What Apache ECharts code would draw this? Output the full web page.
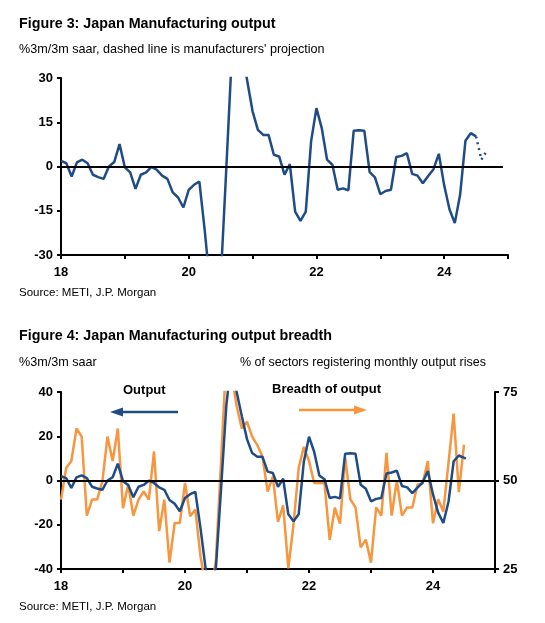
<!DOCTYPE html>
<html><head><meta charset="utf-8">
<script src="https://cdn.jsdelivr.net/npm/echarts@6/dist/echarts.min.js"></script>
<style>html,body{margin:0;padding:0;background:#fff}#c{width:545px;height:623px}</style>
</head><body><div id="c"></div>
<script>
// Monthly data, Jan 2018 .. Jul 2024
const startYear = 2018;
const output = [
  1.9, 1.1, -3.4, 1.4, 2.3, 1.1, -2.8, -3.6, -4.2, 0, 1.5, 7.6,
  -0.3, -2.0, -7.6, -2.8, -2.0, -0.1, -1.1, -3.1, -4.2, -8.8, -10.5, -13.9,
  -7.9, -6.2, -5.1, -21.5, -40, -52, -39, -3, 34, 55, 40, 29,
  18.7, 12.4, 10.7, 10.7, 4.0, 3.4, -2.8, 0.8, -15.3, -18.4, -15.3, 8.5,
  19.8, 13.0, 2.3, 0.6, -7.9, -7.4, -8.1, 12.1, 12.3, 12.1, -1.9, -3.7,
  -9.4, -8.3, -7.9, 3.2, 3.6, 4.5, -2.5, -3.1, -5.7, -3.2, -0.9, 4.3,
  -6.3, -14.5, -19.2, -9.6, 8.7, 11.3, 10.2
];
// manufacturers' projection: Jul, Aug, Sep 2024
const projectionStart = 78;
const projection = [10.2, 2.3, 5.3];
// bottom chart tail of output line: Jul, Aug 2024
const outputTail = [10.2, 9.8];
const breadth = [
  44.6, 53.5, 55.5, 64.7, 62.4, 40.1, 44.6, 44.6, 49.7, 62.4, 55.5, 64.7,
  42.2, 48.8, 40.1, 44.6, 46.9, 44.6, 58.2, 35.7, 44.6, 26.8, 38.0, 38.0,
  49.3, 39.9, 41.8, 28.6, 20, 16, 28, 56, 85, 80, 71, 64.7,
  66.6, 62.4, 60.0, 56.7, 46.9, 51.1, 38.3, 43.0, 25.2, 37.5, 53.5, 59.5,
  55.5, 49.3, 49.3, 49.2, 33.2, 42.3, 37.8, 56.5, 44.7, 42.4, 31.1, 33.3,
  26.8, 42.4, 40.1, 57.8, 40.1, 50.0, 40.1, 42.4, 42.4, 48.8, 49.2, 55.5,
  37.9, 44.7, 41.2, 55.0, 68.9, 46.7, 60.1
];
const xYears = [2018, 2025];
const topTicks = [-30, 30, 15];
const leftTicks = [-40, 40, 20];
const rightTicks = [25, 75, 25];

const BLUE = '#1F4C87', ORANGE = '#F7963F';
const FONT = 'Liberation Sans, Arial, sans-serif';
const xv = i => startYear + i / 12;
const toPts = (arr, off) => arr.map((v, k) => [xv(k + (off || 0)), v]);

const axLbl = {color: '#000', fontWeight: 'bold', fontSize: 13, fontFamily: FONT};
function xAxisDef(gi) {
  return {
    type: 'value', gridIndex: gi, min: xYears[0], max: xYears[1], interval: 1,
    axisLine: {onZero: false, lineStyle: {color: '#000', width: 2}},
    axisTick: {show: true, length: 4, lineStyle: {color: '#000', width: 2}},
    splitLine: {show: false},
    axisLabel: Object.assign({margin: 11, formatter: v => (v % 2 === 0 && v < xYears[1]) ? String(v).slice(2) : ''}, axLbl)
  };
}
function yAxisDef(gi, t, pos) {
  return {
    type: 'value', gridIndex: gi, min: t[0], max: t[1], interval: t[2], position: pos || 'left',
    axisLine: {show: true, lineStyle: {color: '#000', width: 2}},
    axisTick: {show: true, length: 4, lineStyle: {color: '#000', width: 2}},
    splitLine: {show: false},
    axisLabel: Object.assign({margin: 8}, axLbl)
  };
}
const zeroLine = (from, to) => ({
  silent: true, symbol: 'none', label: {show: false},
  lineStyle: {color: '#000', width: 2, type: 'solid'},
  data: [[{coord: [from, 0]}, {coord: [to, 0]}]]
});

const txt = (x, y, s, size, bold, extra) => ({
  type: 'text', left: x, top: y, silent: true,
  style: Object.assign({text: s, fill: '#000', font: (bold ? 'bold ' : '') + size + 'px ' + FONT}, extra || {})
});

const chart = echarts.init(document.getElementById('c'), null, {renderer: 'canvas'});
chart.setOption({
  animation: false,
  backgroundColor: '#fff',
  grid: [
    {left: 61, top: 78, width: 447, height: 177},
    {left: 61, top: 392, width: 434, height: 177}
  ],
  xAxis: [xAxisDef(0), xAxisDef(1)],
  yAxis: [yAxisDef(0, topTicks), yAxisDef(1, leftTicks), yAxisDef(1, rightTicks, 'right')],
  series: [
    {type: 'line', xAxisIndex: 0, yAxisIndex: 0, data: toPts(output), showSymbol: false,
     lineStyle: {color: BLUE, width: 2.5}, clip: true,
     markLine: zeroLine(2018, 2024.92)},
    {type: 'line', xAxisIndex: 0, yAxisIndex: 0, data: toPts(projection, projectionStart), showSymbol: false,
     lineStyle: {color: BLUE, width: 2.5, type: [2, 4]}, clip: true},
    {type: 'line', xAxisIndex: 1, yAxisIndex: 2, data: toPts(breadth), showSymbol: false,
     lineStyle: {color: ORANGE, width: 2.5}, clip: true, z: 2},
    {type: 'line', xAxisIndex: 1, yAxisIndex: 1, data: toPts(output), showSymbol: false,
     lineStyle: {color: BLUE, width: 2.5}, clip: true, z: 3,
     markLine: zeroLine(2018, 2025)},
    {type: 'line', xAxisIndex: 1, yAxisIndex: 1, data: toPts(outputTail, 78), showSymbol: false,
     lineStyle: {color: BLUE, width: 2.5, type: [2, 3]}, clip: true, z: 3}
  ],
  graphic: [
    txt(19, 17, 'Figure 3: Japan Manufacturing output', 14.3, true),
    txt(19, 43, "%3m/3m saar, dashed line is manufacturers' projection", 12.6, false),
    txt(19, 287, 'Source: METI, J.P. Morgan', 11.5, false),
    txt(19, 329, 'Figure 4: Japan Manufacturing output breadth', 14.3, true),
    txt(19, 356, '%3m/3m saar', 12.6, false),
    txt(240, 356, '% of sectors registering monthly output rises', 12.5, false),
    txt(19, 601, 'Source: METI, J.P. Morgan', 11.5, false),
    txt(123, 384, 'Output', 13, true),
    txt(272, 383, 'Breadth of output', 13, true),
    {type: 'line', silent: true, shape: {x1: 178, y1: 412, x2: 120, y2: 412}, style: {stroke: BLUE, lineWidth: 2.5}},
    {type: 'polygon', silent: true, shape: {points: [[110, 412], [123, 407.5], [123, 416.5]]}, style: {fill: BLUE}},
    {type: 'line', silent: true, shape: {x1: 299, y1: 410, x2: 356, y2: 410}, style: {stroke: ORANGE, lineWidth: 2.5}},
    {type: 'polygon', silent: true, shape: {points: [[367, 410], [354, 405.5], [354, 414.5]]}, style: {fill: ORANGE}}
  ]
});
</script></body></html>
